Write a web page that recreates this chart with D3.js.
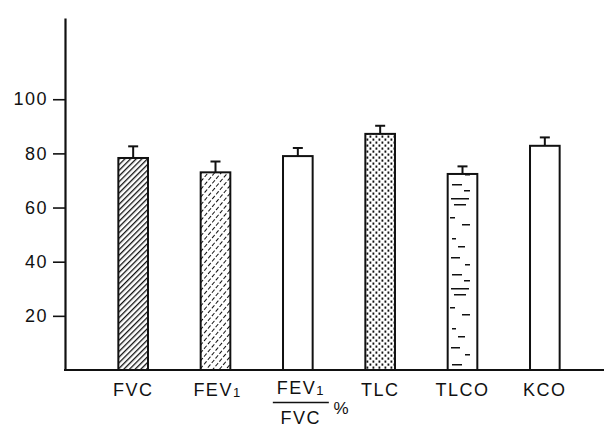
<!DOCTYPE html>
<html><head><meta charset="utf-8">
<script src="https://cdn.jsdelivr.net/npm/d3@7"></script>
<style>
html,body{margin:0;padding:0;background:#fff;}
svg{display:block;}
text{font-family:"Liberation Sans",Arial,sans-serif;fill:#111;}
</style></head>
<body>
<svg id="chart" width="604" height="428"></svg>
<script>
// ---- data ----
const categories = ["FVC", "FEV1", "FEV1/FVC %", "TLC", "TLCO", "KCO"];
const values = [78.3, 73.0, 79.0, 87.2, 72.4, 82.8];
const errors = [4.3, 4.0, 3.0, 3.0, 2.8, 3.1];
const yTicks = [20, 40, 60, 80, 100];
const fills = ["hatch", "dashhatch", "none", "dots", "hdash", "none"];

const svg = d3.select("#chart");
const ink = "#111";

const x = d3.scaleBand().domain(categories).range([92, 586])
  .paddingInner(0.64).paddingOuter(0.32);
const y = d3.scaleLinear().domain([0, 130]).range([370, 18]);

// ---- patterns ----
const defs = svg.append("defs");
const p1 = defs.append("pattern").attr("id", "hatch").attr("patternUnits", "userSpaceOnUse")
  .attr("width", 4).attr("height", 4).attr("patternTransform", "rotate(45)");
p1.append("rect").attr("width", 4).attr("height", 4).attr("fill", "#fff");
p1.append("line").attr("x1", 0).attr("y1", 0).attr("x2", 0).attr("y2", 4)
  .attr("stroke", ink).attr("stroke-width", 2.6);
const p2 = defs.append("pattern").attr("id", "dashhatch").attr("patternUnits", "userSpaceOnUse")
  .attr("width", 5).attr("height", 6).attr("patternTransform", "rotate(40)");
p2.append("rect").attr("width", 5).attr("height", 6).attr("fill", "#fff");
p2.append("line").attr("x1", 0).attr("y1", 0).attr("x2", 0).attr("y2", 4)
  .attr("stroke", ink).attr("stroke-width", 2);
const p3 = defs.append("pattern").attr("id", "dots").attr("patternUnits", "userSpaceOnUse")
  .attr("width", 6).attr("height", 6);
p3.append("rect").attr("width", 6).attr("height", 6).attr("fill", "#fff");
p3.append("rect").attr("x", 0.5).attr("y", 0.5).attr("width", 1.8).attr("height", 2.2).attr("fill", ink);
p3.append("rect").attr("x", 3.5).attr("y", 3.5).attr("width", 1.8).attr("height", 2.2).attr("fill", ink);
// horizontal dashes (fixed tile)
const p4 = defs.append("pattern").attr("id", "hdash").attr("patternUnits", "userSpaceOnUse")
  .attr("width", 28).attr("height", 90).attr("x", 448).attr("y", 0);
p4.append("rect").attr("width", 28).attr("height", 90).attr("fill", "#fff");
const dashes = [[4,4,10],[16,10,6],[3,18,18],[6,24,12],[2,37,5],[14,44,8],[4,58,4],[10,66,7],[3,77,9],[17,84,5]];
dashes.forEach(d => p4.append("rect").attr("x", d[0]).attr("y", d[1]).attr("width", d[2]).attr("height", 1.5).attr("fill", ink));

// ---- y axis ----
const yAxis = d3.axisLeft(y).tickValues(yTicks).tickSize(12).tickSizeOuter(0).tickPadding(5);
const gy = svg.append("g").attr("transform", "translate(65,0)").call(yAxis);
gy.select(".domain").attr("stroke", ink).attr("stroke-width", 2.2);
gy.selectAll(".tick line").attr("stroke", ink).attr("stroke-width", 1.6);
gy.selectAll(".tick text").attr("font-size", 18).attr("fill", ink)
  .attr("font-family", '"Liberation Sans",Arial,sans-serif').attr("letter-spacing", 1.5);

// ---- bars ----
const data = categories.map((c, i) => ({c, v: values[i], e: errors[i], f: fills[i]}));
const bars = svg.append("g");
bars.selectAll("rect").data(data).join("rect")
  .attr("x", d => x(d.c)).attr("y", d => y(d.v))
  .attr("width", x.bandwidth()).attr("height", d => y(0) - y(d.v))
  .attr("fill", d => d.f === "none" ? "#fff" : `url(#${d.f})`)
  .attr("stroke", ink).attr("stroke-width", 2);

const eb = svg.append("g").attr("stroke", ink).attr("stroke-width", 2);
eb.selectAll(".ev").data(data).join("line").attr("class", "ev")
  .attr("x1", d => x(d.c) + x.bandwidth() / 2).attr("x2", d => x(d.c) + x.bandwidth() / 2)
  .attr("y1", d => y(d.v)).attr("y2", d => y(d.v + d.e));
eb.selectAll(".ec").data(data).join("line").attr("class", "ec")
  .attr("x1", d => x(d.c) + x.bandwidth() / 2 - 5).attr("x2", d => x(d.c) + x.bandwidth() / 2 + 5)
  .attr("y1", d => y(d.v + d.e)).attr("y2", d => y(d.v + d.e));

svg.append("line").attr("x1", 64).attr("x2", 604).attr("y1", y(0)).attr("y2", y(0))
  .attr("stroke", ink).attr("stroke-width", 2.2);

// ---- category labels ----
const lab = svg.append("g").attr("font-size", 18).attr("letter-spacing", 1.5).attr("text-anchor", "middle");
function fev(g, cx, yy) {
  const t = g.append("text").attr("x", cx).attr("y", yy);
  t.append("tspan").text("FEV");
  t.append("tspan").attr("font-size", 13).attr("dy", 1).text("1");
  return t;
}
data.forEach(d => {
  const cx = x(d.c) + x.bandwidth() / 2;
  if (d.c === "FEV1") {
    fev(lab, cx + 2, 396);
  } else if (d.c === "FEV1/FVC %") {
    const fx = cx + 3;
    fev(lab, fx, 394);
    lab.append("line").attr("x1", fx - 28).attr("x2", fx + 28).attr("y1", 402.5).attr("y2", 402.5)
      .attr("stroke", ink).attr("stroke-width", 1.6);
    lab.append("text").attr("x", fx).attr("y", 424).text("FVC");
    lab.append("text").attr("x", fx + 41).attr("y", 414).attr("font-size", 17).text("%");
  } else {
    lab.append("text").attr("x", cx).attr("y", 396).text(d.c);
  }
});
</script>
</body></html>
